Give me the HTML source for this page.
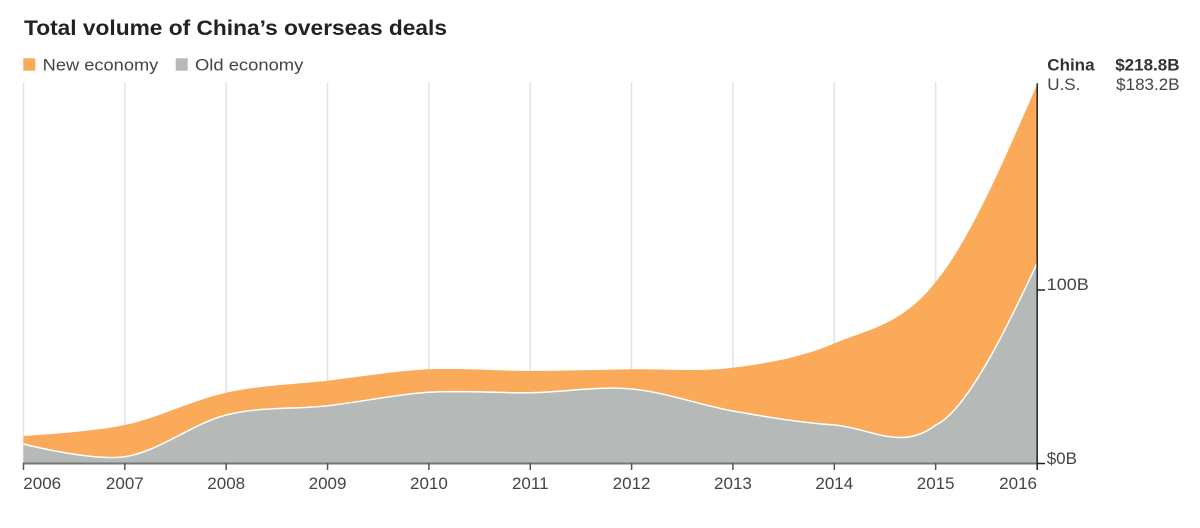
<!DOCTYPE html>
<html><head><meta charset="utf-8"><style>
html,body{margin:0;padding:0;background:#fff;}
svg{display:block;font-family:"Liberation Sans",Arial,sans-serif;}
</style></head><body>
<svg width="1200" height="528" viewBox="0 0 1200 528" xmlns="http://www.w3.org/2000/svg">
<rect width="1200" height="528" fill="#fff"/>
<text x="24" y="35" font-size="21.5" font-weight="bold" fill="#222" textLength="423" lengthAdjust="spacingAndGlyphs">Total volume of China’s overseas deals</text>
<rect x="23.3" y="58.3" width="12" height="12.4" fill="#fbaa5a"/>
<text x="42.7" y="70.7" font-size="17" fill="#444" textLength="115.6" lengthAdjust="spacingAndGlyphs">New economy</text>
<rect x="175.7" y="58.3" width="12" height="12.4" fill="#b5bab9"/>
<text x="195" y="70.7" font-size="17" fill="#444" textLength="108.3" lengthAdjust="spacingAndGlyphs">Old economy</text>

<g stroke="#e2e2e2" stroke-width="1.5">
<line x1="23.5" y1="82.5" x2="23.5" y2="463"/>
<line x1="124.85" y1="82.5" x2="124.85" y2="463"/>
<line x1="226.2" y1="82.5" x2="226.2" y2="463"/>
<line x1="327.55" y1="82.5" x2="327.55" y2="463"/>
<line x1="428.9" y1="82.5" x2="428.9" y2="463"/>
<line x1="530.25" y1="82.5" x2="530.25" y2="463"/>
<line x1="631.6" y1="82.5" x2="631.6" y2="463"/>
<line x1="732.95" y1="82.5" x2="732.95" y2="463"/>
<line x1="834.3" y1="82.5" x2="834.3" y2="463"/>
<line x1="935.65" y1="82.5" x2="935.65" y2="463"/>
</g>

<path fill="#fbaa5a" d="M23.5,436 C23.5,436 91.07,432.22 124.85,425 C158.63,417.78 192.42,400.08 226.2,392.7 C259.98,385.32 293.77,384.6 327.55,380.7 C361.33,376.8 395.12,370.92 428.9,369.3 C462.68,367.68 496.47,371 530.25,371 C564.03,371 597.82,369.85 631.6,369.3 C665.38,368.75 699.17,372 732.95,367.7 C766.73,363.4 800.52,357.78 834.3,343.5 C868.08,329.22 901.87,325.17 935.65,282 C969.43,241 1003.2,162.7 1037,84.5 L1037,463.3 L23.5,463.3 Z"/>

<path fill="#b5bab9" d="M23.5,444 C23.5,444 91.07,461.53 124.85,456.7 C158.63,451.87 192.42,423.5 226.2,415 C259.98,406.5 293.77,409.48 327.55,405.7 C361.33,401.92 395.12,394.47 428.9,392.3 C462.68,390.13 496.47,393.25 530.25,392.7 C564.03,392.15 597.82,385.95 631.6,389 C665.38,392.05 699.17,405 732.95,411 C766.73,417 800.52,422.67 834.3,425 C868.08,427.33 901.87,451.92 935.65,425 C969.43,410 1015,310 1037,263.5 L1037,463.3 L23.5,463.3 Z"/>
<path fill="none" stroke="#fff" stroke-width="1.5" d="M23.5,444 C23.5,444 91.07,461.53 124.85,456.7 C158.63,451.87 192.42,423.5 226.2,415 C259.98,406.5 293.77,409.48 327.55,405.7 C361.33,401.92 395.12,394.47 428.9,392.3 C462.68,390.13 496.47,393.25 530.25,392.7 C564.03,392.15 597.82,385.95 631.6,389 C665.38,392.05 699.17,405 732.95,411 C766.73,417 800.52,422.67 834.3,425 C868.08,427.33 901.87,451.92 935.65,425 C969.43,410 1015,310 1037,263.5"/>

<line x1="23" y1="463.5" x2="1037" y2="463.5" stroke="#777" stroke-width="2"/>
<g stroke="#555" stroke-width="1.5">
<line x1="23.5" y1="463" x2="23.5" y2="470"/>
<line x1="124.85" y1="463" x2="124.85" y2="470"/>
<line x1="226.2" y1="463" x2="226.2" y2="470"/>
<line x1="327.55" y1="463" x2="327.55" y2="470"/>
<line x1="428.9" y1="463" x2="428.9" y2="470"/>
<line x1="530.25" y1="463" x2="530.25" y2="470"/>
<line x1="631.6" y1="463" x2="631.6" y2="470"/>
<line x1="732.95" y1="463" x2="732.95" y2="470"/>
<line x1="834.3" y1="463" x2="834.3" y2="470"/>
<line x1="935.65" y1="463" x2="935.65" y2="470"/>
</g>
<line x1="1037.2" y1="83.3" x2="1037.2" y2="470" stroke="#222" stroke-width="1.5"/>
<line x1="1037" y1="290" x2="1045" y2="290" stroke="#222" stroke-width="1.5"/>
<line x1="1037" y1="463.5" x2="1045" y2="463.5" stroke="#222" stroke-width="1.5"/>

<g font-size="17" fill="#444">
<text x="1046.7" y="290" textLength="42" lengthAdjust="spacingAndGlyphs">100B</text>
<text x="1046.7" y="464">$0B</text>
<text x="23.3" y="489">2006</text>
<text x="124.85" y="489" text-anchor="middle">2007</text>
<text x="226.2" y="489" text-anchor="middle">2008</text>
<text x="327.55" y="489" text-anchor="middle">2009</text>
<text x="428.9" y="489" text-anchor="middle">2010</text>
<text x="530.25" y="489" text-anchor="middle">2011</text>
<text x="631.6" y="489" text-anchor="middle">2012</text>
<text x="732.95" y="489" text-anchor="middle">2013</text>
<text x="834.3" y="489" text-anchor="middle">2014</text>
<text x="935.65" y="489" text-anchor="middle">2015</text>
<text x="1037" y="489" text-anchor="end">2016</text>
</g>
<g font-size="17">
<text x="1047.3" y="70.7" font-weight="bold" fill="#333">China</text>
<text x="1179.5" y="70.7" font-weight="bold" fill="#333" text-anchor="end">$218.8B</text>
<text x="1047.3" y="90" fill="#444">U.S.</text>
<text x="1179.5" y="90" fill="#444" text-anchor="end">$183.2B</text>
</g>
</svg>
</body></html>
